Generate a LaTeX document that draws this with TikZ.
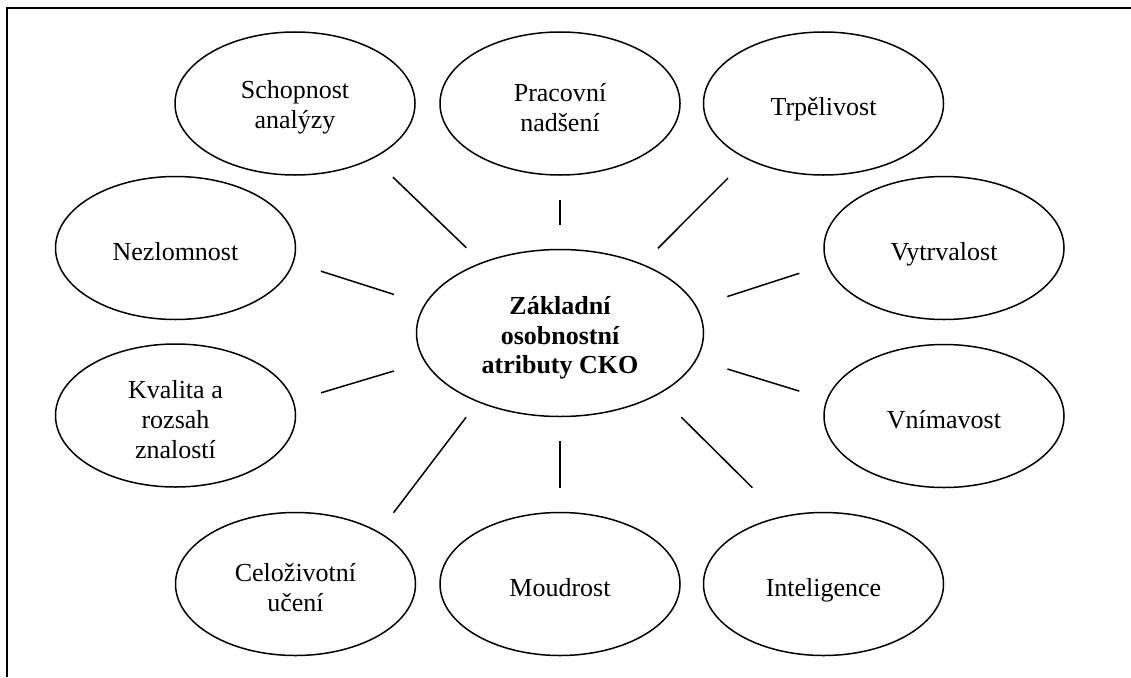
\documentclass[tikz,border=0pt]{standalone}
\usepackage{fontspec}
\setmainfont{Liberation Serif}
\usetikzlibrary{shapes.geometric}
\newcommand\lift[1][26pt]{\rule{0pt}{#1}}

\begin{document}
\begin{tikzpicture}[x=1pt, y=-1pt,
	attr/.style={draw, ellipse, line width=1.5pt, inner sep=0pt, minimum width=240pt, minimum height=143pt, align=center, font=\fontsize{26}{30}\selectfont},
	oneline/.style={attr, text height=24pt, text depth=0pt},
	main/.style={attr, minimum width=287pt, minimum height=167pt, font=\fontsize{26}{29.5}\selectfont\bfseries},
	link/.style={line width=1.5pt}]
			\useasboundingbox (0,0) rectangle (1131,677);
			\draw[line width=2pt] (1131,8) -- (7,8) -- (7,677);
			\node[main] (zak) at (560,333) {\lift[28pt]Základní\\osobnostní\\atributy CKO};
			\node[attr] (schop) at (295,103.5) {\lift Schopnost\\analýzy};
			\node[attr] (prac) at (560,103.5) {\lift Pracovní\\nadšení};
			\node[oneline] (trp) at (823.5,103.5) {Trpělivost};
			\node[oneline] (nezl) at (175.5,248) {Nezlomnost};
			\node[oneline] (vytr) at (944,248) {Vytrvalost};
			\node[attr] (kval) at (175.5,415.5) {\lift Kvalita a\\rozsah\\znalostí};
			\node[oneline] (vnim) at (944,416) {Vnímavost};
			\node[attr] (celo) at (295.5,584) {\lift Celoživotní\\učení};
			\node[oneline] (moud) at (560,584) {Moudrost};
			\node[oneline] (inte) at (823.5,584) {Inteligence};
			\draw[link, shorten <=21pt, shorten >=27pt] (zak.138.8) -- (schop.-35);
			\draw[link, shorten <=24pt, shorten >=24.5pt] (zak.north) -- (prac.south);
			\draw[link, shorten <=22pt, shorten >=26.6pt] (zak.40.4) -- (trp.-144.9);
			\draw[link, shorten <=32pt, shorten >=28.5pt] (zak.168.7) -- (nezl.-7.9);
			\draw[link, shorten <=32pt, shorten >=28.5pt] (zak.11.3) -- (vytr.-172.1);
			\draw[link, shorten <=32pt, shorten >=28.5pt] (zak.-168.7) -- (kval.7.9);
			\draw[link, shorten <=32pt, shorten >=28.5pt] (zak.-11.3) -- (vnim.172.1);
			\draw[link, shorten <=19pt, shorten >=24pt] (zak.-140.2) -- (celo.32.9);
			\draw[link, shorten <=24pt, shorten >=24pt] (zak.south) -- (moud.north);
			\draw[link, shorten <=32pt, shorten >=40.7pt] (zak.-32.1) -- (inte.122.2);
			\end{tikzpicture}
\end{document}
